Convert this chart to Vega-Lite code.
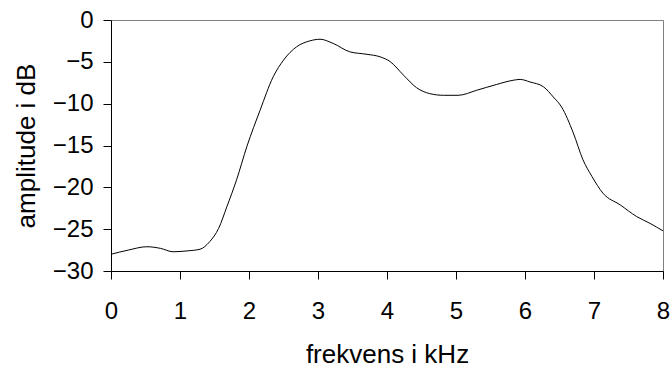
{
  "$schema": "https://vega.github.io/schema/vega-lite/v6.json",
  "width": 552,
  "height": 251,
  "autosize": "none",
  "padding": {"left": 111, "top": 20, "right": 9, "bottom": 98},
  "background": "white",
  "config": {
    "view": {"stroke": "#808080", "strokeWidth": 1},
    "font": "Liberation Sans",
    "axis": {
      "grid": false,
      "domainColor": "#000000",
      "domainWidth": 1,
      "tickColor": "#000000",
      "tickWidth": 1,
      "tickSize": 8,
      "labelFont": "Liberation Sans",
      "labelFontSize": 24,
      "labelColor": "#000000",
      "titleFont": "Liberation Sans",
      "titleFontSize": 26,
      "titleFontWeight": "normal",
      "titleColor": "#000000"
    }
  },
  "data": {
    "values": [
      {"f": 0.0, "db": -28.0},
      {"f": 0.25, "db": -27.5},
      {"f": 0.52, "db": -27.1},
      {"f": 0.72, "db": -27.3},
      {"f": 0.9, "db": -27.7},
      {"f": 1.1, "db": -27.6},
      {"f": 1.29, "db": -27.4},
      {"f": 1.43, "db": -26.5},
      {"f": 1.56, "db": -24.9},
      {"f": 1.68, "db": -22.3},
      {"f": 1.82, "db": -19.1},
      {"f": 1.97, "db": -15.1},
      {"f": 2.16, "db": -10.8},
      {"f": 2.35, "db": -6.8},
      {"f": 2.5, "db": -4.8},
      {"f": 2.69, "db": -3.2},
      {"f": 2.88, "db": -2.5},
      {"f": 3.03, "db": -2.3},
      {"f": 3.22, "db": -2.8},
      {"f": 3.46, "db": -3.8},
      {"f": 3.71, "db": -4.1},
      {"f": 3.9, "db": -4.4},
      {"f": 4.05, "db": -5.0},
      {"f": 4.24, "db": -6.6},
      {"f": 4.43, "db": -8.1},
      {"f": 4.62, "db": -8.8},
      {"f": 4.82, "db": -9.0},
      {"f": 5.03, "db": -9.0},
      {"f": 5.3, "db": -8.4},
      {"f": 5.59, "db": -7.7},
      {"f": 5.83, "db": -7.2},
      {"f": 5.93, "db": -7.1},
      {"f": 6.07, "db": -7.4},
      {"f": 6.27, "db": -8.0},
      {"f": 6.41, "db": -9.2},
      {"f": 6.53, "db": -10.4},
      {"f": 6.7, "db": -13.5},
      {"f": 6.84, "db": -16.7},
      {"f": 6.97, "db": -18.7},
      {"f": 7.13, "db": -20.7},
      {"f": 7.38, "db": -22.1},
      {"f": 7.62, "db": -23.5},
      {"f": 7.81, "db": -24.3},
      {"f": 8.0, "db": -25.2}
    ]
  },
  "mark": {"type": "line", "color": "#000000", "strokeWidth": 1, "interpolate": "monotone", "clip": true},
  "encoding": {
    "x": {
      "field": "f",
      "type": "quantitative",
      "title": "frekvens i kHz",
      "scale": {"domain": [0, 8], "nice": false, "zero": false},
      "axis": {"values": [0, 1, 2, 3, 4, 5, 6, 7, 8], "format": "d", "labelPadding": 20, "titlePadding": 18, "labelFlush": false}
    },
    "y": {
      "field": "db",
      "type": "quantitative",
      "title": "amplitude i dB",
      "scale": {"domain": [-30, 0], "nice": false},
      "axis": {"values": [-30, -25, -20, -15, -10, -5, 0], "format": "d", "labelPadding": 10, "titlePadding": 13, "labelFlush": false}
    }
  }
}
